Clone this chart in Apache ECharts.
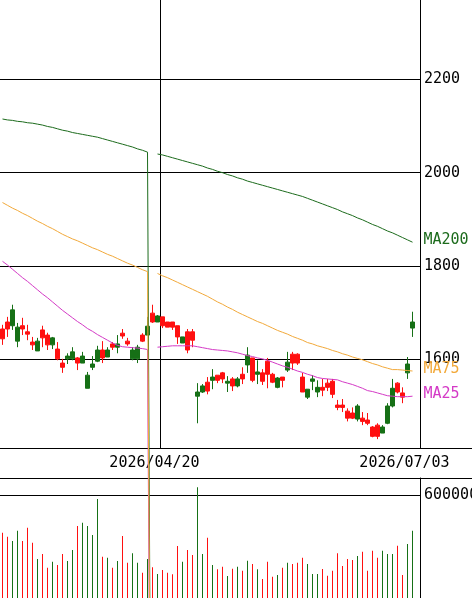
<!DOCTYPE html>
<html><head><meta charset="utf-8">
<script src="https://cdn.jsdelivr.net/npm/echarts@6/dist/echarts.min.js"></script>
<style>html,body{margin:0;padding:0;background:#fff;}#c{width:472px;height:598px;}</style>
</head><body><div id="c"></div>
<script>
const dates = [
'2026/03/04','2026/03/05','2026/03/06','2026/03/09','2026/03/10','2026/03/11','2026/03/12','2026/03/13','2026/03/16','2026/03/17',
'2026/03/18','2026/03/19','2026/03/23','2026/03/24','2026/03/25','2026/03/26','2026/03/27','2026/03/30','2026/03/31','2026/04/01',
'2026/04/02','2026/04/03','2026/04/06','2026/04/07','2026/04/08','2026/04/09','2026/04/10','2026/04/13','2026/04/14','2026/04/15',
'2026/04/16','2026/04/17','2026/04/20','2026/04/21','2026/04/22','2026/04/23','2026/04/24','2026/04/27','2026/04/28','2026/04/30',
'2026/05/01','2026/05/07','2026/05/08','2026/05/11','2026/05/12','2026/05/13','2026/05/14','2026/05/15','2026/05/18','2026/05/19',
'2026/05/20','2026/05/21','2026/05/22','2026/05/25','2026/05/26','2026/05/27','2026/05/28','2026/05/29','2026/06/01','2026/06/02',
'2026/06/03','2026/06/04','2026/06/05','2026/06/08','2026/06/09','2026/06/10','2026/06/11','2026/06/12','2026/06/15','2026/06/16',
'2026/06/17','2026/06/18','2026/06/19','2026/06/22','2026/06/23','2026/06/24','2026/06/25','2026/06/26','2026/06/29','2026/06/30',
'2026/07/01','2026/07/02','2026/07/03'];

// [open, close, low, high]
const ohlc = [
[1665,1644,1631,1674],[1680,1665,1648,1691],[1672,1706,1663,1717],[1639,1669,1626,1678],[1672,1665,1652,1689],
[1659,1654,1641,1674],[1637,1631,1620,1648],[1618,1639,1618,1646],[1663,1646,1626,1672],[1652,1631,1620,1657],
[1631,1646,1622,1648],[1622,1601,1598,1637],[1592,1583,1571,1601],[1601,1607,1590,1613],[1601,1616,1598,1626],
[1603,1592,1577,1605],[1592,1607,1592,1616],[1538,1566,1538,1573],[1583,1590,1577,1607],[1596,1620,1594,1629],
[1620,1603,1592,1639],[1605,1620,1605,1626],[1633,1626,1620,1637],[1626,1633,1613,1652],[1656,1650,1644,1665],
[1639,1633,1629,1646],[1601,1620,1598,1626],[1601,1626,1592,1631],[1652,1639,1637,1656],[1652,1671,1652,1691],
[1699,1680,1678,1717],[1680,1693,1680,1695],[1691,1672,1667,1691],[1680,1669,1669,1680],[1680,1669,1663,1680],
[1672,1648,1633,1672],[1635,1648,1635,1648],[1659,1620,1613,1665],[1659,1641,1626,1665],[1521,1530,1463,1549],
[1530,1543,1528,1547],[1551,1532,1525,1562],[1555,1562,1536,1579],[1566,1555,1549,1566],[1571,1558,1549,1573],
[1549,1553,1530,1564],[1558,1543,1532,1562],[1543,1558,1540,1562],[1568,1558,1547,1583],[1588,1609,1571,1626],
[1603,1555,1551,1603],[1568,1573,1547,1598],[1571,1553,1545,1579],[1596,1568,1538,1603],[1568,1551,1549,1571],
[1540,1560,1538,1562],[1562,1555,1540,1562],[1577,1594,1573,1616],[1611,1592,1577,1616],[1611,1592,1588,1613],
[1562,1530,1530,1571],[1519,1536,1515,1536],[1553,1558,1534,1566],[1530,1540,1519,1555],[1540,1534,1521,1558],
[1549,1540,1532,1558],[1553,1525,1517,1558],[1502,1497,1491,1513],[1502,1497,1487,1515],[1489,1474,1467,1495],
[1485,1474,1472,1497],[1472,1500,1467,1504],[1474,1467,1459,1487],[1470,1463,1459,1485],[1455,1435,1433,1457],
[1459,1435,1429,1463],[1442,1455,1442,1459],[1463,1500,1461,1506],[1500,1538,1497,1558],[1549,1530,1527,1551],
[1528,1519,1506,1540],[1571,1590,1558,1605],[1667,1680,1648,1702]];

const volumes = [
381000,357000,332000,393000,332000,410000,323000,227000,257000,177000,
212000,192000,257000,216000,280000,420000,439000,420000,367000,577000,
241000,235000,177000,216000,362000,206000,261000,206000,148000,227000,
179000,140000,163000,148000,138000,303000,212000,280000,251000,646000,
257000,352000,192000,167000,183000,128000,171000,183000,159000,218000,
198000,167000,111000,212000,124000,134000,177000,206000,198000,206000,
235000,198000,140000,140000,169000,130000,159000,261000,187000,227000,
222000,245000,270000,159000,276000,235000,276000,257000,257000,305000,
134000,315000,393000];

const ma25 = [
1810,1802,1793,1784,1775,1767,1758,1749,1740,1732,
1723,1714,1705,1697,1689,1681,1674,1666,1660,1653,
1647,1641,1635,1630,1627,1626,1625,1624,1623,1621,
0,1626,1627,1628,1629,1629,1629,1629,1629,1627,
1625,1623,1621,1620,1619,1618,1616,1614,1611,1608,
1606,1603,1601,1598,1594,1590,1586,1583,1579,1575,
1572,1568,1565,1561,1559,1558,1557,1556,1552,1549,
1546,1542,1538,1533,1531,1528,1525,1522,1521,1520,
1520,1520,1521];

const ma75 = [
1936,1930,1924,1919,1913,1908,1902,1896,1891,1885,
1880,1874,1868,1863,1858,1854,1849,1844,1839,1835,
1830,1825,1821,1816,1811,1806,1802,1797,1792,1788,
0,1784,1779,1775,1770,1765,1760,1755,1750,1745,
1740,1735,1729,1723,1718,1712,1707,1701,1696,1691,
1686,1681,1677,1672,1667,1662,1658,1654,1649,1645,
1641,1636,1633,1629,1626,1623,1619,1616,1612,1609,
1605,1602,1599,1595,1591,1588,1584,1581,1578,1578,
1577,1576,1575];

const ma200 = [
2115,2113,2112,2110,2109,2107,2106,2104,2102,2099,
2097,2094,2091,2089,2086,2084,2082,2080,2078,2076,
2073,2070,2067,2064,2061,2058,2055,2051,2048,2044,
0,2040,2038,2035,2032,2029,2026,2023,2020,2017,
2014,2010,2007,2003,2000,1996,1993,1989,1986,1982,
1979,1976,1973,1970,1967,1964,1961,1958,1955,1952,
1949,1945,1941,1937,1933,1929,1925,1921,1916,1912,
1908,1903,1899,1894,1889,1885,1880,1875,1871,1866,
1861,1856,1851];

const priceTicks = [1600, 1800, 2000, 2200];
const volumeTicks = [600000];
const labelDates = ['2026/04/20', '2026/07/03'];
const gridDate = '2026/04/20';
const glitchDate = '2026/04/16';

const UP = '#167016', DOWN = '#ff1010';
const C25 = '#d43ac6', C75 = '#f2a93a', C200 = '#1c6b1c';
const FONT = 'DejaVu Sans Mono';

// one blank category on each side keeps the 5px day slots aligned with the frame
const cats = [''].concat(dates, ['']);
const gi = dates.indexOf(glitchDate);
const padL = a => [null].concat(a);
const partA = a => padL(a.map((v, i) => i <= gi ? v : null));
const partB = a => padL(a.map((v, i) => i > gi ? v : null));

const candleData = ['-'].concat(ohlc);
const volData = ['-'].concat(volumes.map((v, i) => ({
  value: v,
  itemStyle: { color: ohlc[i][1] >= ohlc[i][0] ? UP : DOWN }
})));

function maSeries(arr, color, name, z) {
  return [
    { type: 'line', name: name, xAxisIndex: 0, yAxisIndex: 0, data: partA(arr), showSymbol: false,
      clip: false, silent: true, z: z, lineStyle: { color: color, width: 1 } },
    { type: 'line', name: name, xAxisIndex: 0, yAxisIndex: 0, data: partB(arr), showSymbol: false,
      clip: false, silent: true, z: z, lineStyle: { color: color, width: 1 },
      endLabel: { show: true, formatter: name, color: color, fontFamily: FONT, fontSize: 15,
                  distance: 11, offset: [0, -2] } }
  ];
}

const chart = echarts.init(document.getElementById('c'), null, { renderer: 'canvas' });
chart.setOption({
  animation: false,
  backgroundColor: '#fff',
  grid: [
    { left: -5, top: 0, width: 425, height: 448, outerBoundsMode: 'none', containLabel: false },
    { left: -5, top: 478, width: 425, height: 120, outerBoundsMode: 'none', containLabel: false }
  ],
  xAxis: [
    { type: 'category', gridIndex: 0, data: cats, boundaryGap: true,
      axisLine: { show: false }, axisTick: { show: false },
      axisLabel: { interval: (i, v) => labelDates.indexOf(v) >= 0, margin: 8, color: '#000',
                   fontFamily: FONT, fontSize: 15, padding: [0, 16, 0, 0], hideOverlap: false },
      splitLine: { show: true, interval: (i, v) => i === 0 || v === gridDate,
                   lineStyle: { color: '#000', width: 1 } } },
    { type: 'category', gridIndex: 1, data: cats, boundaryGap: true,
      axisLine: { show: false }, axisTick: { show: false }, axisLabel: { show: false },
      splitLine: { show: false } }
  ],
  yAxis: [
    { type: 'value', gridIndex: 0, position: 'right', min: 1410, max: 2370,
      axisLine: { show: true, lineStyle: { color: '#000', width: 1 } },
      axisTick: { show: false, customValues: priceTicks },
      axisLabel: { customValues: priceTicks, margin: 4, color: '#000', fontFamily: FONT, fontSize: 15,
                   formatter: v => String(v) },
      splitLine: { show: true, lineStyle: { color: '#000', width: 1 } } },
    { type: 'value', gridIndex: 1, position: 'right', min: 0, max: 700000,
      axisLine: { show: true, lineStyle: { color: '#000', width: 1 } },
      axisTick: { show: false, customValues: volumeTicks },
      axisLabel: { customValues: volumeTicks, margin: 4, color: '#000', fontFamily: FONT, fontSize: 15,
                   formatter: v => String(v) },
      splitLine: { show: true, lineStyle: { color: '#000', width: 1 } } }
  ],
  graphic: [
    { type: 'line', z: 1, shape: { x1: 0, y1: 448.5, x2: 472, y2: 448.5 }, style: { stroke: '#000', lineWidth: 1 } },
    { type: 'line', z: 1, shape: { x1: 0, y1: 478.5, x2: 472, y2: 478.5 }, style: { stroke: '#000', lineWidth: 1 } }
  ],
  series: [
    { type: 'candlestick', xAxisIndex: 0, yAxisIndex: 0, data: candleData, barWidth: 4, z: 3,
      itemStyle: { color: UP, color0: DOWN, borderColor: UP, borderColor0: DOWN, borderWidth: 1 } },
    { type: 'bar', xAxisIndex: 1, yAxisIndex: 1, data: volData, barWidth: 1, z: 2 }
  ].concat(maSeries(ma200, C200, 'MA200', 5), maSeries(ma25, C25, 'MA25', 6), maSeries(ma75, C75, 'MA75', 7))
});
</script></body></html>
